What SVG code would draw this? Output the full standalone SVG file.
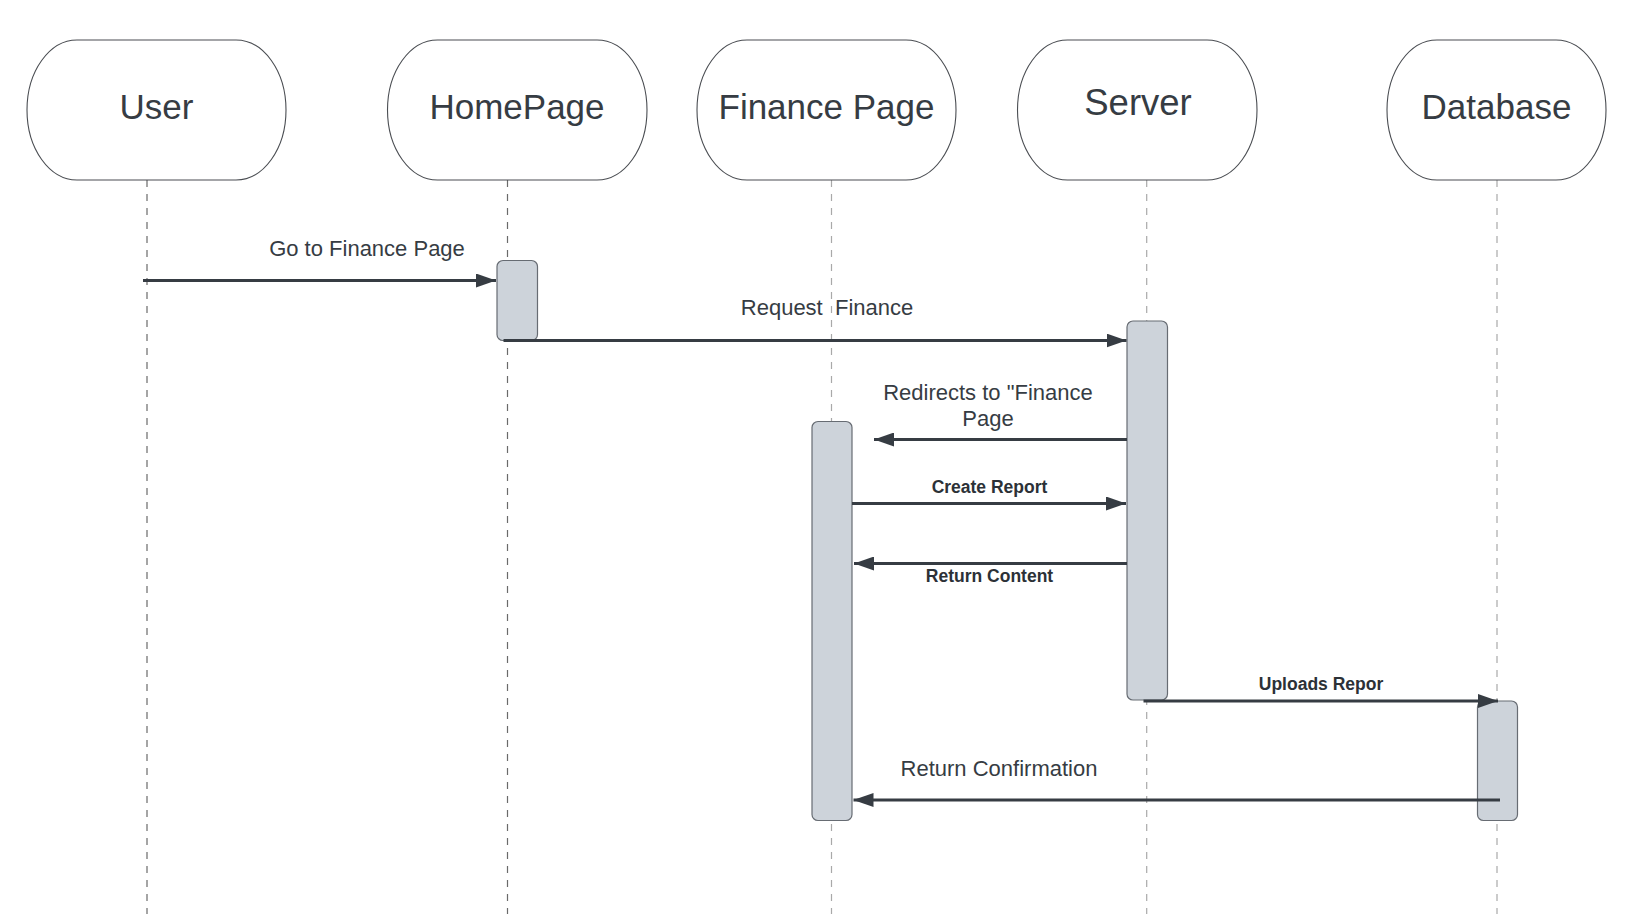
<svg xmlns="http://www.w3.org/2000/svg" width="1633" height="914" viewBox="0 0 1633 914">
  <defs>
    <marker id="arr" viewBox="0 0 20 14" refX="20" refY="7" markerWidth="20" markerHeight="14" markerUnits="userSpaceOnUse" orient="auto">
      <path d="M0,0 L20,7 L0,14 z" fill="#363c43"/>
    </marker>
    <style>
      .node rect { fill: #ffffff; stroke: #4a4d52; stroke-width: 1.1; }
      .node text { font-family: "Liberation Sans", Arial, sans-serif; font-size: 35px; fill: #363c43; text-anchor: middle; }
      .life { stroke-width: 1.2; stroke-dasharray: 7 7; fill: none; }
      .lifeD { stroke: #6a6a6a; }
      .lifeL { stroke: #a9a9a9; }
      .act { fill: #cdd3da; stroke: #676c73; stroke-width: 1.2; }
      .msg { stroke: #363c43; stroke-width: 3; fill: none; marker-end: url(#arr); }
      .lbl { font-family: "Liberation Sans", Arial, sans-serif; font-size: 22px; fill: #363c43; text-anchor: middle; white-space: pre; }
      .lblb { font-family: "Liberation Sans", Arial, sans-serif; font-size: 17.5px; font-weight: bold; fill: #2c3137; text-anchor: middle; }
    </style>
  </defs>
  <rect x="0" y="0" width="1633" height="914" fill="#ffffff"/>

  <g id="lifelines">
    <line class="life lifeD" x1="147" y1="180" x2="147" y2="914"/>
    <line class="life lifeD" x1="507.5" y1="180" x2="507.5" y2="914"/>
    <line class="life lifeL" x1="831.5" y1="180" x2="831.5" y2="914"/>
    <line class="life lifeL" x1="1146.7" y1="180" x2="1146.7" y2="914"/>
    <line class="life lifeL" x1="1497" y1="180" x2="1497" y2="914"/>
  </g>

  <g id="user" class="node">
    <rect x="27" y="40" width="259" height="140" rx="50" ry="70"/>
    <text x="156.5" y="119">User</text>
  </g>
  <g id="homepage" class="node">
    <rect x="387.5" y="40" width="259.5" height="140" rx="50" ry="70"/>
    <text x="517" y="119">HomePage</text>
  </g>
  <g id="financepage" class="node">
    <rect x="697" y="40" width="259" height="140" rx="50" ry="70"/>
    <text x="826.5" y="119">Finance Page</text>
  </g>
  <g id="server" class="node">
    <rect x="1017.5" y="40" width="239.5" height="140" rx="50" ry="70"/>
    <text x="1138" y="115" style="font-size:36.5px">Server</text>
  </g>
  <g id="database" class="node">
    <rect x="1387" y="40" width="219" height="140" rx="50" ry="70"/>
    <text x="1496.5" y="118.5">Database</text>
  </g>

  <g id="activations">
    <rect id="act-home" class="act" x="497" y="260.5" width="40.5" height="80" rx="6"/>
    <rect id="act-server" class="act" x="1127" y="321" width="40.5" height="379" rx="6"/>
    <rect id="act-finance" class="act" x="812" y="421.5" width="40" height="399" rx="6"/>
    <rect id="act-db" class="act" x="1477.5" y="701" width="40" height="119.5" rx="6"/>
  </g>

  <g id="connectors">
    <line class="msg" x1="143" y1="280.5" x2="496" y2="280.5"/>
    <line class="msg" x1="503.5" y1="340.5" x2="1126.5" y2="340.5"/>
    <line class="msg" x1="1127" y1="439.5" x2="874" y2="439.5"/>
    <line class="msg" x1="852" y1="503.5" x2="1126" y2="503.5"/>
    <line class="msg" x1="1127" y1="563.5" x2="854" y2="563.5"/>
    <line class="msg" x1="1143.5" y1="701" x2="1498" y2="701"/>
    <line class="msg" x1="1500" y1="800" x2="853.5" y2="800"/>
  </g>

  <g id="labels">
    <text class="lbl" x="367" y="255.5">Go to Finance Page</text>
    <text class="lbl" x="827" y="315" xml:space="preserve">Request  Finance</text>
    <text class="lbl" x="988" y="399.5">Redirects to "Finance</text>
    <text class="lbl" x="988" y="425.5">Page</text>
    <text class="lblb" x="989.5" y="492.5">Create Report</text>
    <text class="lblb" x="989.5" y="581.5">Return Content</text>
    <text class="lblb" x="1321" y="689.5">Uploads Repor</text>
    <text class="lbl" x="999" y="776">Return Confirmation</text>
  </g>
</svg>
